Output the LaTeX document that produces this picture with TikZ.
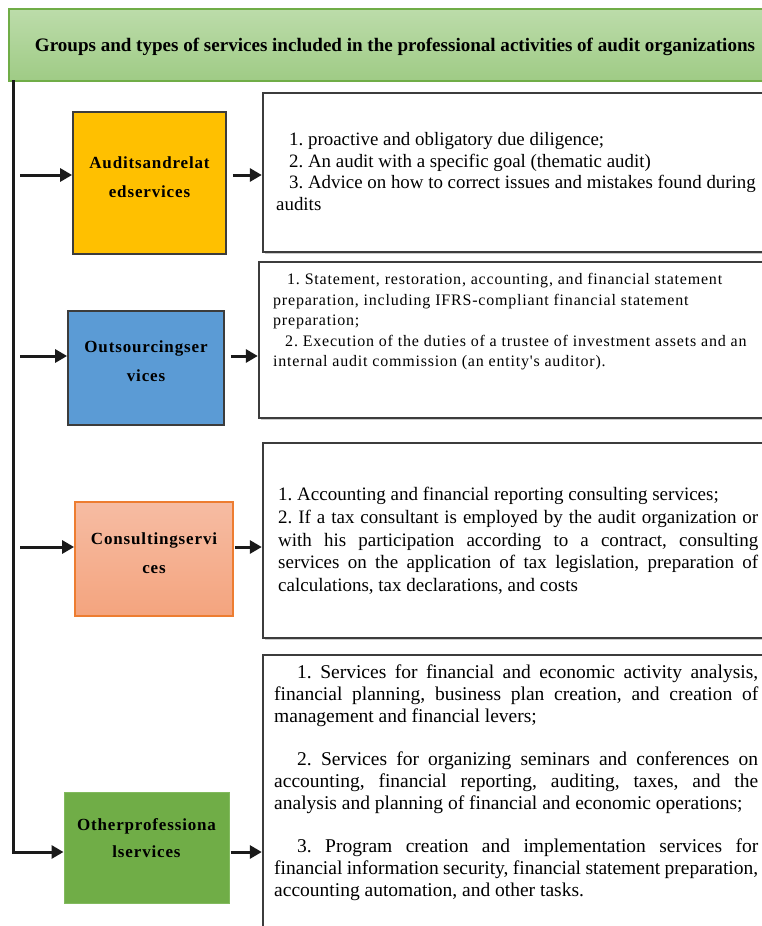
\documentclass[tikz,border=0pt]{standalone}
\usepackage{fontspec}
\setmainfont{Liberation Serif}
\newfontfamily\lblfont[LetterSpace=5]{Liberation Serif}
\newfontfamily\spacedfont[LetterSpace=5]{Liberation Serif}
\usepackage{graphicx}
\usetikzlibrary{arrows.meta,shadows}

\definecolor{titletop}{HTML}{BCDCAA}
\definecolor{titlebot}{HTML}{9FCB85}
\definecolor{titleline}{HTML}{70AD47}
\definecolor{auditfill}{HTML}{FFC000}
\definecolor{outfill}{HTML}{5B9BD5}
\definecolor{constop}{HTML}{F6BCA3}
\definecolor{consbot}{HTML}{F4A47E}
\definecolor{consline}{HTML}{ED7D31}
\definecolor{otherfill}{HTML}{70AD47}
\definecolor{otherline}{HTML}{82BA5E}
\definecolor{frame}{HTML}{3C3C3C}
\definecolor{ink}{HTML}{1A1A1A}

% justified line of a given width
\newcommand\jline[2]{\makebox[#1][s]{#2}}

\begin{document}
\frenchspacing
\begin{tikzpicture}[x=1pt,y=-1pt,
  titlebox/.style={draw=titleline,line width=2pt,top color=titletop,bottom color=titlebot,
    anchor=north west,minimum width=790pt,minimum height=72pt,inner sep=0pt},
  catbox/.style={draw=frame,line width=1.8pt,inner sep=0pt},
  detailbox/.style={draw=frame,fill=white,line width=2.4pt,inner sep=0pt,
    drop shadow={shadow xshift=1.5pt,shadow yshift=-1.5pt,fill=black!25,opacity=0.8}},
  catlabel/.style={font=\lblfont\bfseries\fontsize{17pt}{29pt}\selectfont,align=center,inner sep=0pt},
  bodytext/.style={anchor=north west,inner sep=0pt,align=left},
  arr/.style={draw=ink,line width=3pt,-{Triangle[length=12pt,width=13pt]}},
]
\clip (0,0) rectangle (762,926);
\fill[white] (0,0) rectangle (762,926);

% heading banner
\node[titlebox] (title) at (8,8) {};
\node[inner sep=0pt,font=\bfseries\fontsize{15.5pt}{18pt}\selectfont] (ttl) at (395,47)
  {\resizebox{720pt}{!}{Groups and types of services included in the professional activities of audit organizations}};

% service groups
\node[catbox,fill=auditfill,minimum width=153pt,minimum height=142pt] (b1) at (149.5,183) {};
\node[catbox,fill=outfill,minimum width=156pt,minimum height=114pt] (b2) at (146,368) {};
\node[catbox,draw=consline,top color=constop,bottom color=consbot,minimum width=158pt,minimum height=114pt] (b3) at (154,559) {};
\node[catbox,draw=otherline,line width=1pt,fill=otherfill,minimum width=165pt,minimum height=111pt] (b4) at (146.5,847.5) {};

\node[catlabel] (l1) at ([yshift=5.5pt]b1.center) {Auditsandrelat\\edservices};
\node[catlabel] (l2) at ([yshift=6.5pt]b2.center) {Outsourcingser\\vices};
\node[catlabel] (l3) at ([yshift=5.5pt]b3.center) {Consultingservi\\ces};
\node[catlabel,font=\lblfont\bfseries\fontsize{17pt}{27pt}\selectfont] (l4) at ([yshift=9pt]b4.center) {Otherprofessiona\\lservices};

% detail frames
\node[detailbox,minimum width=527pt,minimum height=159pt] (d1) at (526.5,172.5) {};
\node[detailbox,minimum width=531pt,minimum height=156pt] (d2) at (524.5,340) {};
\node[detailbox,minimum width=527pt,minimum height=195pt] (d3) at (526.5,540.5) {};
\node[detailbox,minimum width=527pt,minimum height=305pt] (d4) at (526.5,807.5) {};

% detail texts
\node[bodytext,font=\fontsize{18.9pt}{21.8pt}\selectfont] (t1) at (276,132) {%
\hspace*{13pt}1. proactive and obligatory due diligence;\\
\hspace*{13pt}2. An audit with a specific goal (thematic audit)\\
\hspace*{13pt}3. Advice on how to correct issues and mistakes found during\\
audits};

\node[bodytext,font=\spacedfont\fontsize{16pt}{20.5pt}\selectfont] (t2) at (273,273.5) {%
\hspace*{14pt}1. Statement, restoration, accounting, and financial statement\\
preparation, including IFRS-compliant financial statement\\
preparation;\\
\hspace*{12pt}2. Execution of the duties of a trustee of investment assets and an\\
internal audit commission (an entity's auditor).};

\node[bodytext,font=\fontsize{19pt}{22.8pt}\selectfont] (t3) at (278,487) {%
1. Accounting and financial reporting consulting services;\\
\jline{480pt}{2. If a tax consultant is employed by the audit organization or}\\
\jline{480pt}{with his participation according to a contract, consulting}\\
\jline{480pt}{services on the application of tax legislation, preparation of}\\
calculations, tax declarations, and costs};

\node[bodytext,font=\fontsize{19.5pt}{21.8pt}\selectfont] (t4) at (274,664.5) {%
\jline{484pt}{\hspace*{23pt}1. Services for financial and economic activity analysis,}\\
\jline{484pt}{financial planning, business plan creation, and creation of}\\
management and financial levers;\\[21.8pt]
\jline{484pt}{\hspace*{23pt}2. Services for organizing seminars and conferences on}\\
\jline{484pt}{accounting, financial reporting, auditing, taxes, and the}\\
analysis and planning of financial and economic operations;\\[21.8pt]
\jline{484pt}{\hspace*{23pt}3. Program creation and implementation services for}\\
\jline{484pt}{financial information security, financial statement preparation,}\\
accounting automation, and other tasks.};

% connectors
\coordinate (top) at (13,80);
\coordinate (bend) at (13,852);
\coordinate (a1) at (20,175);
\coordinate (a2) at (20,356);
\coordinate (a3) at (20,547);

\draw[arr,line join=miter] (top) -- (bend) -- (bend -| b4.west);
\draw[arr] (a1) -- (a1 -| b1.west);
\draw[arr] (a2) -- (a2 -| b2.west);
\draw[arr] (a3) -- (a3 -| b3.west);

\draw[arr,shorten <=6pt] (b1.east |- a1) -- (d1.west |- a1);
\draw[arr,shorten <=6pt] (b2.east |- a2) -- (d2.west |- a2);
\draw[arr,shorten <=1pt] (b3.east |- a3) -- (d3.west |- a3);
\draw[arr,shorten <=1pt] (b4.east |- bend) -- (d4.west |- bend);
\end{tikzpicture}
\end{document}
